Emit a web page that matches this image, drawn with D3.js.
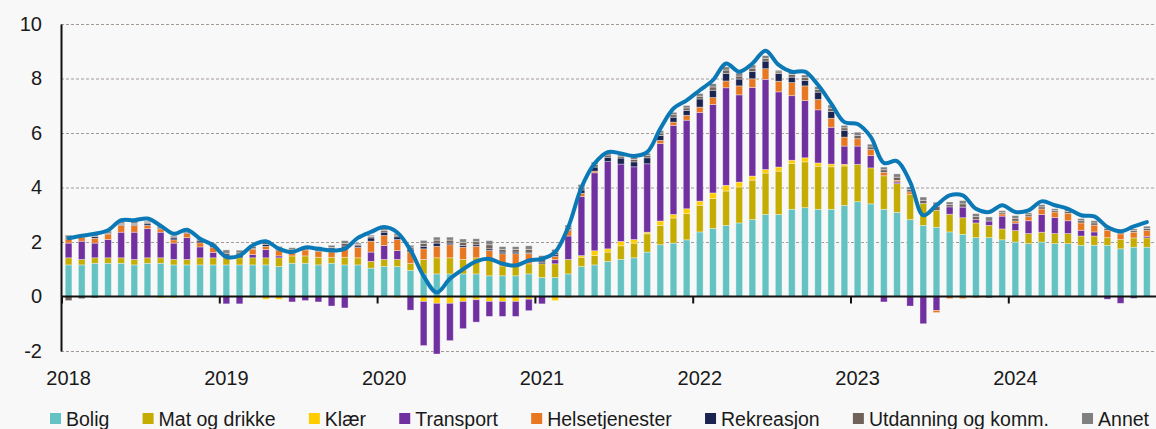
<!DOCTYPE html>
<html><head><meta charset="utf-8">
<script src="https://cdn.jsdelivr.net/npm/d3@7"></script>
<style>
html,body{margin:0;padding:0;background:#f8f8f8;}
svg{display:block;font-family:"Liberation Sans",Arial,sans-serif;}
</style></head><body>
<svg id="chart" width="1156" height="429"></svg>
<script>
// ---------- DATA ----------
const years = ["2018","2019","2020","2021","2022","2023","2024"];
const monthNums = ["01","02","03","04","05","06","07","08","09","10","11","12"];
const categories = [];
years.forEach(yr => monthNums.forEach(m => categories.push(yr + "-" + m)));

const seriesNames = ["Bolig","Mat og drikke","Klær","Transport","Helsetjenester","Rekreasjon","Utdanning og komm.","Annet"];

const bolig = [1.16,1.16,1.22,1.22,1.22,1.16,1.22,1.22,1.16,1.16,1.16,1.16,
  1.16,1.16,1.16,1.16,1.10,1.22,1.22,1.16,1.22,1.16,1.16,1.04,
  1.10,1.10,0.96,0.83,0.83,0.83,0.83,0.83,0.76,0.76,0.76,0.83,
  0.70,0.70,0.83,1.10,1.16,1.29,1.36,1.42,1.63,1.90,1.96,2.08,
  2.37,2.50,2.61,2.70,2.82,3.01,3.01,3.20,3.26,3.20,3.20,3.34,
  3.48,3.40,3.20,3.09,2.82,2.61,2.54,2.37,2.28,2.16,2.16,2.08,
  2.00,1.94,2.00,1.94,1.94,1.88,1.88,1.88,1.75,1.81,1.81];
const mat = [0.26,0.20,0.20,0.20,0.20,0.20,0.20,0.20,0.20,0.20,0.26,0.26,
  0.26,0.26,0.26,0.26,0.32,0.27,0.27,0.28,0.22,0.28,0.26,0.25,
  0.26,0.26,0.25,0.53,0.59,0.59,0.53,0.59,0.60,0.36,0.36,0.37,
  0.50,0.50,0.53,0.34,0.34,0.34,0.50,0.54,0.67,0.71,0.92,0.96,
  0.98,1.10,1.26,1.32,1.45,1.52,1.59,1.68,1.68,1.58,1.56,1.45,
  1.37,1.32,1.23,1.05,0.93,0.80,0.62,0.65,0.61,0.54,0.45,0.40,
  0.42,0.37,0.36,0.37,0.37,0.34,0.34,0.28,0.34,0.34,0.34];
const klaer = [0,0,0,0,0,0,0,-0.05,-0.05,0,0,0,
  0,0,-0.05,-0.10,-0.10,0,0,0,0,0,-0.05,0,
  0,-0.05,0,-0.18,-0.25,-0.25,-0.18,-0.12,-0.18,-0.18,-0.18,-0.10,
  0,-0.15,-0.05,0.06,0.18,0.12,0.16,0.13,0.06,0.16,0.13,0.18,
  0.15,0.20,0.21,0.18,0.15,0.13,0.15,0.12,0.15,0.12,0.10,0.06,
  0,0,0,0,0,0,0,0,0,0,0,0,
  0,0,0,0,0,0,0,0,0,0,0];
const transport = [0.54,0.67,0.54,0.67,0.94,1.00,1.07,0.94,0.60,0.80,0.40,0.20,
  -0.27,-0.27,0.12,0.30,0.07,-0.20,-0.15,-0.20,-0.35,-0.42,0,0.34,
  0.51,0.33,-0.50,-1.62,-1.86,-1.37,-1.00,-0.82,-0.55,-0.55,-0.55,-0.42,
  -0.27,0.15,0.86,2.17,2.86,3.20,2.84,2.67,2.51,2.84,3.27,3.25,
  3.25,3.25,3.58,3.20,3.25,3.31,2.76,2.37,2.10,1.95,1.35,0.67,
  0.67,0.45,-0.20,0.06,-0.35,-1.00,-0.51,0.27,0.39,0.12,0.16,0.47,
  0.27,0.47,0.65,0.59,0.47,0.21,0.15,-0.10,-0.25,-0.07,0.06];
const helse = [0.16,0.15,0.18,0.20,0.25,0.25,0.12,0.12,0.12,0.15,0.15,0.18,
  0,0,0.20,0.12,0.20,0.10,0.22,0.22,0.20,0.34,0.38,0.40,
  0.37,0.40,0.43,0.39,0.42,0.48,0.45,0.42,0.33,0.45,0.45,0.37,
  0,0.12,0.20,0.12,0.06,0,0,0,0,0.12,0.12,0.18,
  0.20,0.25,0.25,0.33,0.32,0.39,0.39,0.48,0.54,0.38,0.33,0.33,
  0.27,0.22,0.12,0.06,0.09,0,-0.08,-0.08,-0.08,-0.05,0,0.08,
  0.08,0.15,0.20,0.20,0.27,0.27,0.25,0.27,0.21,0.21,0.21];
const rekreasjon = [0.03,0.03,0.06,0.03,0.03,0.03,0.06,0.03,0.07,0.03,0.07,0.06,
  0.05,0.08,0.03,0.07,0.03,0.04,0.03,0.03,0.08,0.07,0.06,0.12,
  0.12,0.10,0.10,0.09,0.12,0.06,0.06,0.06,0.06,0.06,0.06,0.03,
  0.06,0.06,0.04,0.12,0.15,0.16,0.22,0.18,0.22,0.18,0.18,0.18,
  0.30,0.27,0.28,0.25,0.27,0.28,0.28,0.20,0.20,0.27,0.25,0.25,
  0,0,0,0,0,0,0,0,0,0,0,0,
  0,0,0,0,0,0,0,0,0,0,0];
const utdanning = [-0.15,-0.08,-0.05,0.05,0.05,0.05,0.04,0.05,0.04,0.05,0.04,0.04,
  0.12,0.10,0.06,0.08,0.06,0.08,0.05,0.07,0.08,0.10,0.05,0.05,
  0.06,0.06,0.07,0.11,0.11,0.11,0.12,0.11,0.15,0.10,0.10,0.13,
  0.12,0.10,0.08,0.10,0.09,0.08,0.07,0.09,0.08,0.09,0.09,0.09,
  0.10,0.12,0.12,0.11,0.12,0.10,0.06,0.10,0.10,0.10,0.12,0.09,
  0.12,0.10,0.10,0.12,0.09,0.12,0.15,0.09,0.12,0.11,-0.05,0.06,
  0.10,0.07,0.08,0.06,0.07,0.08,0.08,0.06,0.06,0.06,0.08];
const annet = [0.10,0.08,0.06,0.06,0.06,0.06,0.05,0.05,0.05,0.05,0.05,0.05,
  0.12,0.10,0.06,0.08,0.06,0.08,0.05,0.07,0.08,0.10,0.05,0.05,
  0.06,0.06,0.07,0.11,0.11,0.11,0.12,0.11,0.15,0.10,0.10,0.13,
  0.12,0.10,0.08,0.10,0.09,0.08,0.07,0.09,0.08,0.09,0.09,0.09,
  0.10,0.12,0.12,0.11,0.12,0.10,0.06,0.10,0.10,0.10,0.12,0.09,
  0.12,0.10,0.10,0.12,0.09,0.12,0.15,0.09,0.12,0.11,0.15,0.06,
  0.10,0.07,0.08,0.06,0.07,0.08,0.08,0.06,0.06,0.06,0.08];
const totalKPI = [2.14,2.23,2.30,2.43,2.80,2.80,2.86,2.60,2.30,2.45,2.12,1.88,
  1.45,1.50,1.88,2.03,1.75,1.63,1.80,1.75,1.69,1.75,2.15,2.37,
  2.55,2.35,1.70,0.75,0.15,0.65,1.00,1.29,1.38,1.20,1.14,1.32,
  1.38,1.63,2.55,4.00,4.88,5.30,5.25,5.16,5.30,6.16,6.90,7.20,
  7.57,7.94,8.55,8.25,8.55,9.02,8.50,8.25,8.25,7.76,7.08,6.40,
  6.33,5.86,4.90,4.97,4.20,2.98,3.35,3.71,3.71,3.22,3.10,3.35,
  3.10,3.16,3.49,3.35,3.22,2.98,2.94,2.55,2.39,2.57,2.73];
const yTicks = [-2,0,2,4,6,8,10];

// ---------- STYLE ----------
const colors = ["#64c3c2","#c4ac00","#ffcc00","#7030a0","#e87722","#1b2451","#6f625b","#808080"];
const lineColor = "#0b79b6";

// ---------- BUILD ----------
const seriesArrays = [bolig, mat, klaer, transport, helse, rekreasjon, utdanning, annet];
const nData = totalKPI.length;
const rows = d3.range(nData).map(i => {
  const r = {month: categories[i]};
  seriesNames.forEach((s, k) => r[s] = seriesArrays[k][i]);
  return r;
});
const stacked = d3.stack().keys(seriesNames).offset(d3.stackOffsetDiverging)(rows);

const svg = d3.select("#chart");
const W = 1156, H = 429;
svg.append("rect").attr("width", W).attr("height", H).attr("fill", "#f8f8f8");

const plotLeft = 62, step = 13.15;
const x = d3.scaleBand().domain(categories)
  .range([plotLeft, plotLeft + categories.length * step])
  .paddingInner(0.49).paddingOuter(0.245);
const y = d3.scaleLinear().domain([-2, 10]).range([351, 24]);

// gridlines
svg.append("g").selectAll("line").data(yTicks.filter(t => t !== 0)).join("line")
  .attr("x1", 61).attr("x2", W)
  .attr("y1", d => y(d) + 0.5).attr("y2", d => y(d) + 0.5)
  .attr("stroke", "#a39a94").attr("stroke-width", 1).attr("stroke-dasharray", "3,2");

// bars
svg.append("g").selectAll("g").data(stacked).join("g")
  .attr("fill", (d, i) => colors[i])
  .selectAll("rect").data(d => d.filter(p => Math.abs(p[1] - p[0]) > 1e-9)).join("rect")
  .attr("x", d => x(d.data.month))
  .attr("width", x.bandwidth())
  .attr("y", d => y(Math.max(d[0], d[1])))
  .attr("height", d => Math.abs(y(d[0]) - y(d[1])))
  .attr("stroke", "rgba(255,255,255,0.45)").attr("stroke-width", 0.8);

// x axis line
svg.append("line").attr("x1", 61).attr("x2", W).attr("y1", y(0)).attr("y2", y(0))
  .attr("stroke", "#111").attr("stroke-width", 2);
// year ticks
const janCats = categories.filter(c => c.endsWith("-01"));
const gap = x.step() - x.bandwidth();
svg.append("g").selectAll("line").data(janCats).join("line")
  .attr("x1", d => x(d) - gap / 2).attr("x2", d => x(d) - gap / 2)
  .attr("y1", y(0)).attr("y2", y(0) + 7)
  .attr("stroke", "#111").attr("stroke-width", 2);
svg.append("g").selectAll("text").data(janCats).join("text")
  .attr("x", d => x(d) + x.bandwidth() / 2).attr("y", 385)
  .attr("text-anchor", "middle").attr("font-size", 20).attr("fill", "#1a1a1a")
  .text(d => d.slice(0, 4));

// y axis
const yAxis = d3.axisLeft(y).tickValues(yTicks).tickSize(0).tickPadding(19).tickFormat(d3.format("d"));
const gy = svg.append("g").attr("transform", "translate(61,0)").call(yAxis);
gy.select(".domain").attr("stroke", "#111").attr("stroke-width", 2);
gy.selectAll("text").attr("font-size", 20).attr("fill", "#1a1a1a")
  .attr("font-family", '"Liberation Sans",Arial,sans-serif').text(d => d < 0 ? "-" + Math.abs(d) : d);

// line
const line = d3.line()
  .x((d, i) => x(categories[i]) + x.bandwidth() / 2)
  .y(d => y(d))
  .curve(d3.curveCatmullRom.alpha(0.5));
svg.append("path").datum(totalKPI).attr("d", line)
  .attr("fill", "none").attr("stroke", lineColor).attr("stroke-width", 4)
  .attr("stroke-linejoin", "round").attr("stroke-linecap", "round");

// legend: items spread between x=50 and x=1149
const lg = svg.append("g");
const legendStart = 50, legendEnd = 1149, sq = 11, txtOff = 16;
const items = seriesNames.map((name, i) => {
  const t = lg.append("text").attr("y", 426).attr("font-size", 19.5).attr("fill", "#1a1a1a").text(name);
  return {t, w: t.node().getComputedTextLength(), i};
});
const used = d3.sum(items, d => d.w + txtOff);
const lgap = (legendEnd - legendStart - used) / (items.length - 1);
let lx = legendStart;
items.forEach(d => {
  lg.append("rect").attr("x", lx).attr("y", 413).attr("width", sq).attr("height", sq).attr("fill", colors[d.i]);
  d.t.attr("x", lx + txtOff);
  lx += txtOff + d.w + lgap;
});
</script>
</body></html>
